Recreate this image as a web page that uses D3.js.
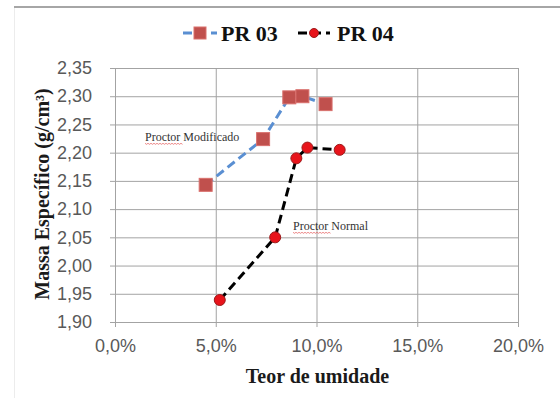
<!DOCTYPE html>
<html>
<head>
<meta charset="utf-8">
<script src="https://cdn.jsdelivr.net/npm/d3@7"></script>
<style>
  html, body { margin: 0; padding: 0; background: #ffffff; }
  svg { display: block; }
</style>
</head>
<body>
<svg id="chart" width="560" height="398"></svg>
<script>
// Teor de umidade (fração) e massa específica (g/cm³) de cada ensaio
const pr03Umidade = [0.045, 0.0735, 0.0865, 0.093, 0.1045];
const pr03Massa   = [2.143, 2.224, 2.298, 2.300, 2.286];
const pr04Umidade = [0.052, 0.0795, 0.090, 0.0955, 0.1115];
const pr04Massa   = [1.939, 2.050, 2.190, 2.209, 2.205];

const seriesNames = ["PR 03", "PR 04"];
const xTicks = [0, 0.05, 0.10, 0.15, 0.20];
const yTicks = [1.90, 1.95, 2.00, 2.05, 2.10, 2.15, 2.20, 2.25, 2.30, 2.35];
const xTitle = "Teor de umidade";
const yTitle = "Massa Específico (g/cm³)";
const notes = ["Proctor Modificado", "Proctor Normal"];

const svg = d3.select("#chart");
const W = 560, H = 398;
const plot = { left: 115, right: 518, top: 68, bottom: 322 };

const ptBR = d3.formatLocale({ decimal: ",", thousands: ".", grouping: [3], currency: ["R$", ""] });
const fmtY = ptBR.format(".2f");
const fmtX = ptBR.format(".1%");

const x = d3.scaleLinear().domain([0, 0.20]).range([plot.left, plot.right]);
const y = d3.scaleLinear().domain([1.90, 2.35]).range([plot.bottom, plot.top]);

// moldura externa da área do gráfico
svg.append("line").attr("x1", 14.5).attr("x2", 14.5).attr("y1", 7).attr("y2", H)
  .attr("stroke", "#ececec").attr("stroke-width", 1);
svg.append("line").attr("x1", 14).attr("x2", W).attr("y1", 7).attr("y2", 7)
  .attr("stroke", "#a6a6a6").attr("stroke-width", 2);

// linhas de grade
const grid = svg.append("g");
grid.append("g")
  .attr("transform", `translate(${plot.left},0)`)
  .call(d3.axisLeft(y).tickValues(yTicks).tickSize(-(plot.right - plot.left)).tickFormat(""))
  .call(g => g.select(".domain").remove())
  .call(g => g.selectAll("line").attr("stroke", "#a3a3a3").attr("stroke-width", 1));
grid.append("g")
  .attr("transform", `translate(0,${plot.bottom})`)
  .call(d3.axisBottom(x).tickValues(xTicks).tickSize(-(plot.bottom - plot.top)).tickFormat(""))
  .call(g => g.select(".domain").remove())
  .call(g => g.selectAll("line").attr("stroke", "#a3a3a3").attr("stroke-width", 1));

// eixos com marcas externas
const axisY = svg.append("g")
  .attr("transform", `translate(${plot.left},0)`)
  .call(d3.axisLeft(y).tickValues(yTicks).tickSize(5).tickPadding(18).tickFormat(fmtY));
const axisX = svg.append("g")
  .attr("transform", `translate(0,${plot.bottom})`)
  .call(d3.axisBottom(x).tickValues(xTicks).tickSize(5).tickPadding(12).tickFormat(fmtX));
[axisY, axisX].forEach(a => {
  a.select(".domain").attr("stroke", "#a3a3a3");
  a.selectAll(".tick line").attr("stroke", "#a3a3a3");
  a.selectAll(".tick text")
    .attr("fill", "#595959")
    .style("font-family", "'Liberation Sans', Arial, sans-serif")
    .style("font-size", "18px");
});

// títulos dos eixos
svg.append("text")
  .attr("x", (plot.left + plot.right) / 2 + 1).attr("y", 383)
  .attr("text-anchor", "middle")
  .style("font-family", "'Liberation Serif', 'Times New Roman', serif")
  .style("font-weight", "bold").style("font-size", "20px").attr("fill", "#1a1a1a")
  .text(xTitle);
svg.append("text")
  .attr("transform", `translate(49,${(plot.top + plot.bottom) / 2 - 1}) rotate(-90)`)
  .attr("text-anchor", "middle")
  .style("font-family", "'Liberation Serif', 'Times New Roman', serif")
  .style("font-weight", "bold").style("font-size", "20px").attr("fill", "#1a1a1a")
  .text(yTitle);

// séries
const pr03 = pr03Umidade.map((u, i) => ({ u, m: pr03Massa[i] }));
const pr04 = pr04Umidade.map((u, i) => ({ u, m: pr04Massa[i] }));
const line = d3.line().x(d => x(d.u)).y(d => y(d.m));

const blue = "#5a8fd2", squareFill = "#c0504d", circleFill = "#e8141b";

svg.append("path").datum(pr03).attr("d", line)
  .attr("fill", "none").attr("stroke", blue).attr("stroke-width", 3)
  .attr("stroke-dasharray", "9,5");
svg.append("path").datum(pr04).attr("d", line)
  .attr("fill", "none").attr("stroke", "#000").attr("stroke-width", 3)
  .attr("stroke-dasharray", "9,5");

const sq = 13;
svg.append("g").selectAll("rect").data(pr03).join("rect")
  .attr("x", d => x(d.u) - sq / 2).attr("y", d => y(d.m) - sq / 2)
  .attr("width", sq).attr("height", sq)
  .attr("fill", squareFill).attr("stroke", "#d9706d").attr("stroke-width", 1);
svg.append("g").selectAll("circle").data(pr04).join("circle")
  .attr("cx", d => x(d.u)).attr("cy", d => y(d.m)).attr("r", 5.5)
  .attr("fill", circleFill).attr("stroke", "#9c1b1b").attr("stroke-width", 1);

// anotações das curvas, com sublinhado ondulado sob "Proctor"
const notePos = [{ x: 145, y: 141 }, { x: 293, y: 230 }];
notes.forEach((t, i) => {
  svg.append("text").attr("x", notePos[i].x).attr("y", notePos[i].y)
    .style("font-family", "'Liberation Serif', 'Times New Roman', serif")
    .style("font-size", "12px").attr("fill", "#333")
    .text(t);
  const wavy = d3.range(0, 26).map(k => [notePos[i].x + k * 1.5, notePos[i].y + 2.5 + (k % 2 ? 0.8 : -0.2)]);
  svg.append("path").attr("d", d3.line()(wavy))
    .attr("fill", "none").attr("stroke", "#e34a4a").attr("stroke-width", 0.8).attr("opacity", 0.8);
});

// legenda
const legY = 33;
const leg = svg.append("g");
const legItems = [
  { name: seriesNames[0], x0: 183, x1: 217, color: blue, mark: "square", text: 221 },
  { name: seriesNames[1], x0: 298, x1: 330, color: "#000", mark: "circle", text: 337 }
];
legItems.forEach(it => {
  leg.append("line").attr("x1", it.x0).attr("x2", it.x1).attr("y1", legY).attr("y2", legY)
    .attr("stroke", it.color).attr("stroke-width", 3).attr("stroke-dasharray", "9,5");
  const cx = (it.x0 + it.x1) / 2;
  if (it.mark === "square") {
    leg.append("rect").attr("x", cx - 6).attr("y", legY - 6).attr("width", 12).attr("height", 12)
      .attr("fill", squareFill).attr("stroke", "#d9706d");
  } else {
    leg.append("circle").attr("cx", cx).attr("cy", legY).attr("r", 4.5)
      .attr("fill", circleFill).attr("stroke", "#9c1b1b");
  }
  leg.append("text").attr("x", it.text).attr("y", legY + 8)
    .style("font-family", "'Liberation Serif', 'Times New Roman', serif")
    .style("font-weight", "bold").style("font-size", "22px").attr("fill", "#111")
    .text(it.name);
});
</script>
</body>
</html>
